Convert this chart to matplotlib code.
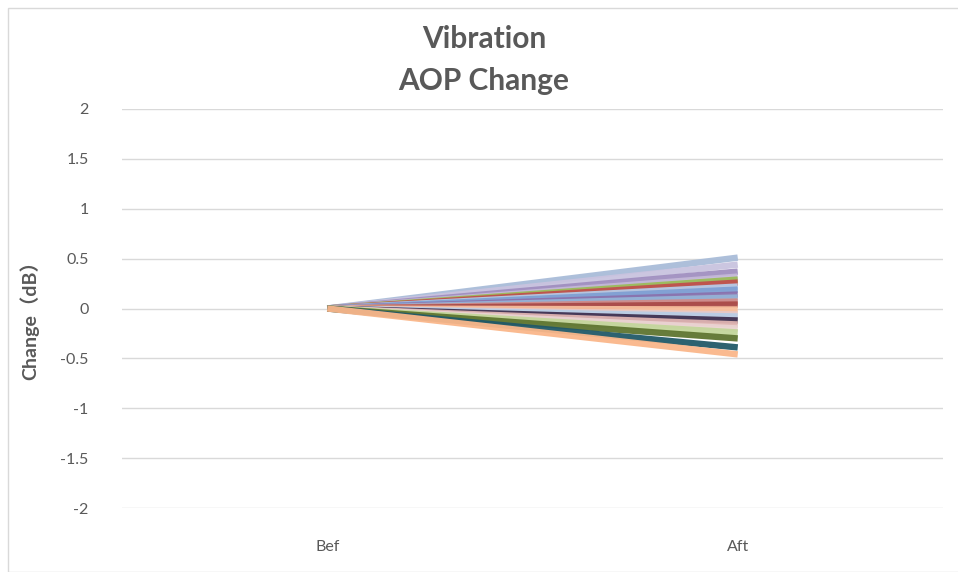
import matplotlib
matplotlib.use('Agg')
import matplotlib.pyplot as plt
from matplotlib.patches import Rectangle

# ── Data ─────────────────────────────────────────────────────────────────────
categories = ['Bef', 'Aft']
bef_values = [0.0] * 22
aft_values = [0.51, 0.44, 0.37, 0.32, 0.29, 0.26, 0.22, 0.19, 0.14, 0.11, 0.07,
              0.04, -0.01, -0.06, -0.08, -0.12, -0.16, -0.20, -0.24, -0.30,
              -0.39, -0.46]
series_colors = ['#a9bcd8', '#c9c3df', '#a08fc0', '#c4b8d8', '#9bbb59', '#c0504d',
                 '#b7cbe6', '#7f9fd3', '#8a72ad', '#95b3d7', '#d08a88', '#a94a48',
                 '#f7be9c', '#e6c9c8', '#b9cde5', '#403151', '#e0b4b2', '#ead3d2',
                 '#c3d69b', '#5f7530', '#215968', '#fab78a']
y_ticks = [-2, -1.5, -1, -0.5, 0, 0.5, 1, 1.5, 2]

# ── Figure ───────────────────────────────────────────────────────────────────
plt.rcParams['font.family'] = ['Lato', 'Noto Sans CJK SC']
fig = plt.figure(figsize=(9.58, 5.72), dpi=100)
ax = fig.add_axes([122 / 958, 64 / 572, 821 / 958, 399 / 572])

xpos = [0.5, 1.5]
for b, a, c in zip(bef_values, aft_values, series_colors):
    ax.plot(xpos, [b, a], color=c, lw=4.6, solid_capstyle='butt', alpha=0.95)

ax.set_xlim(0, 2)
ax.set_ylim(-2, 2)
ax.set_yticks(y_ticks)
ax.set_yticklabels([f'{v:g}' for v in y_ticks])
ax.set_xticks(xpos)
ax.set_xticklabels(categories)
ax.grid(axis='y', color='#d9d9d9', lw=1)
ax.set_axisbelow(True)
for s in ax.spines.values():
    s.set_visible(False)
ax.tick_params(length=0, labelsize=11.5, labelcolor='#595959')
ax.tick_params(axis='y', pad=24)
ax.tick_params(axis='x', pad=23)

fig.text(484 / 958, 1 - 60 / 572, 'Vibration\nAOP Change', ha='center', va='center',
         fontsize=21.5, fontweight='bold', color='#595959', linespacing=1.65)
fig.text(29 / 958, 1 - 316 / 572, 'Change（dB）', rotation=90, ha='center',
         va='center', fontsize=14, fontweight='bold', color='#595959')

fig.patches.append(Rectangle((8 / 958, 0), 1, 1 - 8 / 572, transform=fig.transFigure,
                             fill=False, edgecolor='#d9d9d9', lw=1))

plt.savefig('out.png', dpi=100)
